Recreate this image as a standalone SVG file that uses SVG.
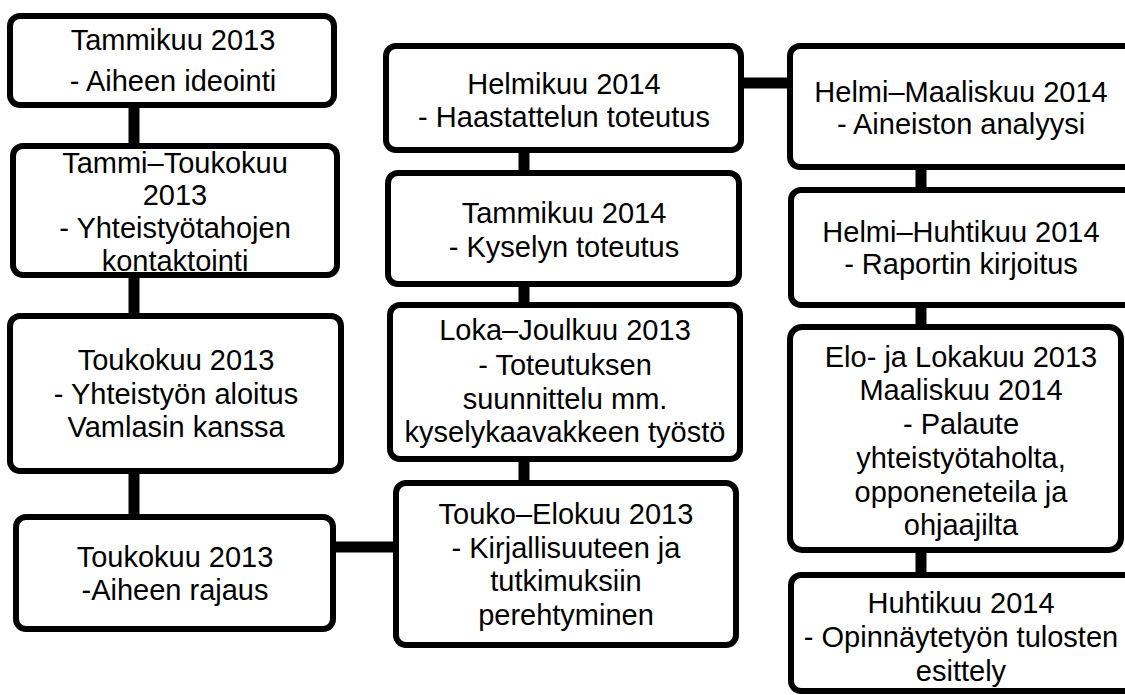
<svg xmlns="http://www.w3.org/2000/svg" width="1125" height="695" viewBox="0 0 1125 695">
<style>
.box{fill:#fff;stroke:#000;stroke-width:6}
.lbl{font-family:"Liberation Sans",Arial,sans-serif;font-size:29px;fill:#000;text-anchor:middle}
.con{stroke:#000;stroke-width:11;fill:none}
</style>
<rect width="1125" height="695" fill="#fff"/>
<g id="connectors">
<line class="con" x1="134" y1="105" x2="134" y2="146"/>
<line class="con" x1="134" y1="275" x2="134" y2="316"/>
<line class="con" x1="134" y1="471" x2="134" y2="517"/>
<line class="con" x1="333" y1="547" x2="396" y2="547"/>
<line class="con" x1="524" y1="150" x2="524" y2="173"/>
<line class="con" x1="524" y1="284" x2="524" y2="305"/>
<line class="con" x1="524" y1="459" x2="524" y2="483"/>
<line class="con" x1="741" y1="83" x2="790" y2="83"/>
<line class="con" x1="921" y1="167" x2="921" y2="190"/>
<line class="con" x1="921" y1="305" x2="921" y2="327"/>
<line class="con" x1="921" y1="550" x2="921" y2="575"/>
</g>
<g id="n1"><rect class="box" x="10" y="16" width="324" height="89" rx="10"/>
<text class="lbl" x="173" y="50">Tammikuu 2013</text>
<text class="lbl" x="173" y="91">- Aiheen ideointi</text></g>
<g id="n2"><rect class="box" x="13" y="146" width="324" height="129" rx="10"/>
<text class="lbl" x="175" y="173">Tammi–Toukokuu</text>
<text class="lbl" x="175" y="205">2013</text>
<text class="lbl" x="175" y="238">- Yhteistyötahojen</text>
<text class="lbl" x="175" y="271">kontaktointi</text></g>
<g id="n3"><rect class="box" x="10" y="316" width="331" height="155" rx="10"/>
<text class="lbl" x="176" y="370">Toukokuu 2013</text>
<text class="lbl" x="176" y="404">- Yhteistyön aloitus</text>
<text class="lbl" x="176" y="437">Vamlasin kanssa</text></g>
<g id="n4"><rect class="box" x="16" y="517" width="317" height="112" rx="10"/>
<text class="lbl" x="175" y="567">Toukokuu 2013</text>
<text class="lbl" x="175" y="600">-Aiheen rajaus</text></g>
<g id="n5"><rect class="box" x="386" y="46" width="355" height="104" rx="10"/>
<text class="lbl" x="564" y="94">Helmikuu 2014</text>
<text class="lbl" x="564" y="127">- Haastattelun toteutus</text></g>
<g id="n6"><rect class="box" x="388" y="173" width="351" height="111" rx="10"/>
<text class="lbl" x="564" y="223">Tammikuu 2014</text>
<text class="lbl" x="564" y="257">- Kyselyn toteutus</text></g>
<g id="n7"><rect class="box" x="390" y="305" width="350" height="154" rx="10"/>
<text class="lbl" x="565" y="340">Loka–Joulkuu 2013</text>
<text class="lbl" x="565" y="375">- Toteutuksen</text>
<text class="lbl" x="565" y="409">suunnittelu mm.</text>
<text class="lbl" x="565" y="442">kyselykaavakkeen työstö</text></g>
<g id="n8"><rect class="box" x="396" y="483" width="340" height="162" rx="10"/>
<text class="lbl" x="566" y="524">Touko–Elokuu 2013</text>
<text class="lbl" x="566" y="558">- Kirjallisuuteen ja</text>
<text class="lbl" x="566" y="591">tutkimuksiin</text>
<text class="lbl" x="566" y="625">perehtyminen</text></g>
<g id="n9"><rect class="box" x="790" y="46" width="350" height="121" rx="10"/>
<text class="lbl" x="961" y="102">Helmi–Maaliskuu 2014</text>
<text class="lbl" x="961" y="134">- Aineiston analyysi</text></g>
<g id="n10"><rect class="box" x="791" y="190" width="350" height="115" rx="10"/>
<text class="lbl" x="961" y="242">Helmi–Huhtikuu 2014</text>
<text class="lbl" x="961" y="274">- Raportin kirjoitus</text></g>
<g id="n11"><rect class="box" x="790" y="327" width="331" height="223" rx="12"/>
<text class="lbl" x="961" y="367">Elo- ja Lokakuu 2013</text>
<text class="lbl" x="961" y="400">Maaliskuu 2014</text>
<text class="lbl" x="961" y="434">- Palaute</text>
<text class="lbl" x="961" y="468">yhteistyötaholta,</text>
<text class="lbl" x="961" y="502">opponeneteila ja</text>
<text class="lbl" x="961" y="535">ohjaajilta</text></g>
<g id="n12"><rect class="box" x="791" y="575" width="350" height="116" rx="10"/>
<text class="lbl" x="961" y="613">Huhtikuu 2014</text>
<text class="lbl" x="961" y="647">- Opinnäytetyön tulosten</text>
<text class="lbl" x="961" y="681">esittely</text></g>
</svg>
